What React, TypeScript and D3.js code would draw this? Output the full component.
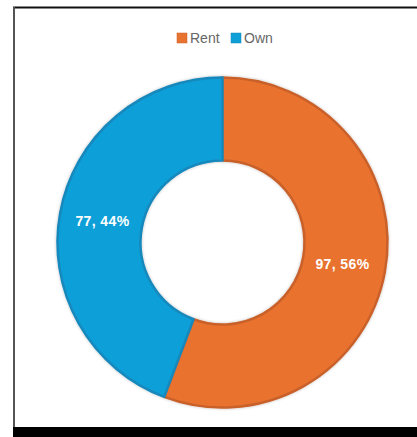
import React from "react";
import * as d3 from "d3";

const categories = ["Rent", "Own"];
const values = [97, 77];
const colors = ["#E8722F", "#0E9FD7"];
const strokeColors = ["#C9612A", "#1788BC"];

export default function App() {
  const W = 417, H = 437;
  const cx = 222.5, cy = 242.5;
  const outerR = 165, innerR = 82;
  const total = d3.sum(values);
  const pie = d3.pie<number>().sort(null).value((d) => d);
  const arcs = pie(values);
  const arc = d3.arc<d3.PieArcDatum<number>>().innerRadius(innerR).outerRadius(outerR);
  const labelArc = d3.arc<d3.PieArcDatum<number>>().innerRadius(122).outerRadius(122);

  const legendX = d3.scalePoint<string>().domain(categories).range([177, 231]);

  return (
    <svg width={W} height={H} style={{ position: "absolute", left: 0, top: 0, display: "block" }}>
      <defs>
        <filter id="sh" x="-10%" y="-10%" width="120%" height="120%">
          <feDropShadow dx="0" dy="0" stdDeviation="1.5" floodColor="#000" floodOpacity="0.25" />
        </filter>
      </defs>
      <rect x={0} y={0} width={W} height={H} fill="#fff" />
      <line x1={13} x2={417} y1={7.5} y2={7.5} stroke="#111" strokeWidth={2} />
      <line x1={14} x2={14} y1={7} y2={428} stroke="#555" strokeWidth={2} />
      <rect x={13} y={427} width={404} height={10} fill="#000" />
      <g transform={`translate(${cx},${cy})`} filter="url(#sh)">
        {arcs.map((a, i) => (
          <path key={i} d={arc(a) || ""} fill={colors[i]} stroke={strokeColors[i]} strokeWidth={2.5} strokeLinejoin="round" />
        ))}
      </g>
      <g transform={`translate(${cx},${cy})`}>
        {arcs.map((a, i) => {
          const [x, y] = labelArc.centroid(a);
          return (
            <text key={i} x={x} y={y} dy="0.35em" textAnchor="middle" fill="#fff"
              fontFamily="Liberation Sans, Arial, sans-serif" fontWeight="bold" fontSize={14} letterSpacing={0.4}>
              {`${values[i]}, ${Math.round((values[i] / total) * 100)}%`}
            </text>
          );
        })}
      </g>
      <g fontFamily="Liberation Sans, Arial, sans-serif" fontSize={14} fill="#666">
        {categories.map((c, i) => (
          <g key={c} transform={`translate(${legendX(c)},33)`}>
            <rect x={0} y={0} width={10} height={10} fill={colors[i]} stroke={strokeColors[i]} strokeWidth={0.5} />
            <text x={13} y={10}>{c}</text>
          </g>
        ))}
      </g>
    </svg>
  );
}
